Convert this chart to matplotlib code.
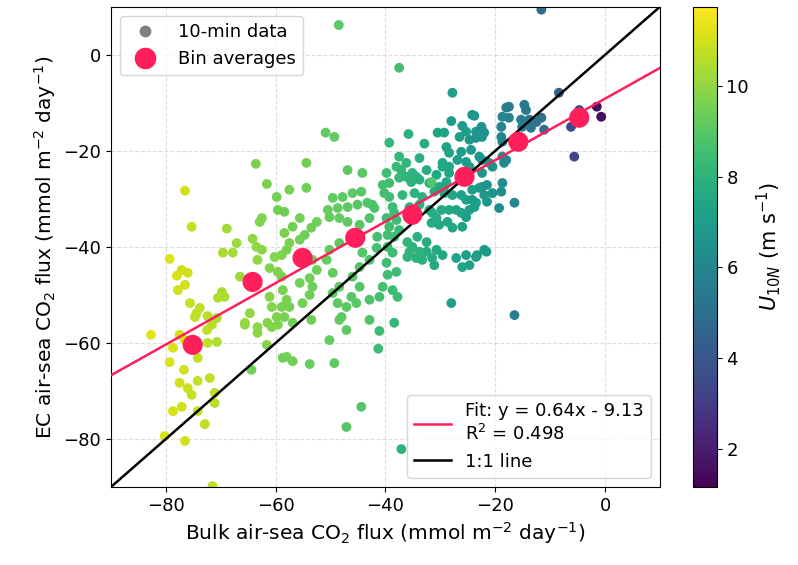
import numpy as np
import matplotlib.pyplot as plt
from matplotlib.lines import Line2D

# 10-min data: bulk flux (x), EC flux (y), U10N (colour)
bulk_flux = [
    -63.6, -61.6, -59.8, -59.6, -58.4, -62.5, -62.9, -76.5, -75.3, -68.9, -64.2, -63.5, -62.5, -67.1, -67.8,
    -69.6, -63.3, -60.2, -58.9, -61.1, -59.6, -79.3, -77.1, -76.0, -78.0, -76.5, -77.8, -66.5, -69.8, -69.3,
    -70.5, -75.6, -73.8, -74.4, -72.4, -70.7, -74.7, -64.7, -65.6, -63.3, -61.1, -60.7, -59.8, -58.9, -61.5,
    -59.6, -58.7,
    -82.7, -78.7, -79.3, -77.5, -76.5, -74.2, -72.4, -72.5, -70.7, -71.6, -76.7, -77.5, -76.0, -75.3, -74.2,
    -72.0, -71.1, -71.1, -77.1, -78.7, -74.2, -72.9, -80.2, -76.5, -71.5, -64.4, -65.6, -63.3, -61.6, -60.7,
    -58.7,
    -53.5, -48.4, -47.1, -50.2, -58.0, -56.9, -53.8, -49.3, -41.1, -41.3, -38.4, -44.4, -47.1, -37.1,
    -48.5, -37.5, -27.8, -23.8, -28.0, -26.0, -30.5, -29.3, -35.8, -50.9, -49.3, -39.3, -32.9, -28.9, -28.4,
    -26.5, -25.3, -54.4, -46.9, -37.5, -36.2, -33.8, -29.6,
    -11.6, -8.4, -4.7, -1.5, -0.7, -6.2, -5.6, -18.0, -17.5, -14.7, -14.4, -13.8, -12.5, -11.6, -11.1,
    -15.3, -15.1, -13.5, -18.9, -18.7, -17.5, -24.2, -22.5, -22.0, -22.4, -23.5, -24.7, -18.9, -18.7, -22.9,
    -22.4, -18.7, -18.0, -21.1, -20.5,
    -18.4, -22.4, -21.5, -20.5, -18.7, -18.9, -24.2, -23.8, -19.3, -16.5, -22.0, -23.3, -24.7, -16.5,
    -44.2, -57.5, -54.4, -49.6, -47.8, -46.0, -44.4, -48.7, -46.9, -45.1, -43.3, -50.5, -50.2, -48.4, -55.6,
    -56.9, -53.5, -54.7, -52.5, -46.9, -44.7, -42.9, -42.0, -39.8, -39.3, -38.0, -37.5, -39.3, -38.7, -39.8,
    -38.0, -39.3, -37.5, -38.4, -35.1, -33.8, -32.5, -32.0, -30.7, -29.6, -28.4, -34.7, -33.3, -31.1, -29.3,
    -32.0, -30.7, -30.2, -28.4, -27.1, -27.8, -26.0, -26.2, -24.2, -23.5, -25.3, -34.2, -32.5, -35.1, -34.4,
    -36.0, -32.5, -33.3, -30.7, -29.6, -31.1, -26.0, -23.5, -28.0, -38.7, -39.8, -38.0, -39.6, -40.5, -38.7,
    -37.8, -41.1, -44.2, -42.9, -44.7, -46.0, -44.7, -46.2, -45.3, -47.1, -48.4, -50.2, -50.7, -49.6, -48.4,
    -49.6, -48.7, -48.0, -42.9, -42.9, -53.3, -52.5, -53.8, -55.6, -53.3, -53.8, -55.1, -57.5, -58.4, -56.9,
    -58.9, -58.0, -57.5, -58.4, -55.6, -58.0,
    -23.5, -26.2, -24.4, -37.1, -28.4, -26.9, -25.3, -24.7, -22.4, -40.5, -40.2, -36.2, -35.3, -34.4, -31.6,
    -30.2, -28.9, -29.3, -27.8, -26.2, -24.7, -22.9, -22.0, -21.5, -42.4, -38.4, -36.9, -35.6, -33.8, -31.5,
    -29.8, -28.7, -31.6, -25.3, -41.5, -39.6, -36.0, -41.6, -39.6, -35.6, -33.8, -31.5, -27.1, -25.3, -21.6,
]
ec_flux = [
    -22.7, -26.9, -29.6, -32.3, -32.7, -34.0, -34.8, -28.3, -35.8, -36.2, -38.3, -40.0, -40.6, -39.2, -41.2,
    -41.2, -42.7, -42.1, -41.7, -44.4, -45.2, -42.5, -44.8, -45.4, -46.0, -47.9, -49.0, -46.2, -49.4, -50.4,
    -50.6, -51.7, -52.7, -53.8, -54.4, -54.8, -54.6, -53.8, -55.8, -56.7, -50.4, -52.5, -54.6, -52.5, -55.8,
    -56.2, -49.0,
    -58.3, -61.0, -64.0, -58.3, -59.4, -63.1, -60.0, -57.3, -59.8, -56.2, -65.6, -68.3, -69.4, -70.8, -67.9,
    -67.3, -70.4, -72.5, -73.3, -74.2, -74.2, -76.9, -79.4, -80.4, -89.8, -65.6, -56.2, -57.9, -60.4, -56.7,
    -63.1,
    -55.2, -55.2, -57.3, -59.4, -62.9, -63.8, -64.4, -64.2, -57.5, -61.2, -55.8, -73.3, -77.5, -82.1,
    6.2, -2.7, -7.9, -12.7, -13.8, -14.8, -16.2, -16.2, -16.5, -16.2, -17.1, -18.3, -18.5, -19.2, -20.4,
    -17.1, -16.0, -22.5, -24.0, -21.2, -22.5, -21.5, -22.5,
    9.4, -7.9, -11.5, -10.8, -12.9, -15.0, -21.2, -11.0, -10.8, -10.4, -11.5, -13.5, -14.0, -13.1, -15.6,
    -13.5, -15.0, -15.2, -15.0, -12.9, -13.1, -12.5, -15.0, -16.2, -17.1, -16.0, -17.7, -17.1, -18.1, -21.2,
    -21.9, -21.2, -21.9, -22.5, -23.3,
    -22.5, -27.5, -27.1, -28.8, -26.7, -28.5, -30.2, -31.7, -31.9, -30.8, -40.6, -41.7, -43.8, -54.2,
    -24.6, -28.1, -27.7, -29.8, -29.6, -28.8, -28.5, -31.9, -31.7, -31.2, -30.8, -32.3, -33.8, -34.0, -34.0,
    -35.8, -36.0, -37.5, -34.8, -34.8, -35.4, -34.0, -31.9, -24.6, -26.7, -23.3, -25.6, -29.6, -31.7, -34.0,
    -34.4, -35.8, -36.5, -37.9, -24.6, -26.0, -24.0, -26.7, -25.0, -23.3, -24.6, -28.8, -29.6, -28.5, -27.5,
    -32.3, -34.0, -35.4, -32.3, -32.3, -36.0, -35.8, -32.9, -28.1, -30.8, -30.2, -37.9, -39.0, -40.0, -42.3,
    -42.1, -41.0, -42.7, -40.6, -41.7, -43.8, -44.2, -42.1, -51.7, -41.2, -43.3, -45.2, -45.8, -48.3, -49.0,
    -50.4, -50.4, -41.2, -42.7, -44.2, -46.2, -48.3, -50.4, -51.7, -52.5, -39.2, -40.6, -42.7, -45.4, -48.3,
    -49.6, -51.7, -54.6, -51.0, -55.2, -42.7, -44.8, -46.5, -47.5, -48.3, -50.0, -51.7, -52.5, -54.6, -55.8,
    -46.2, -51.0, -39.2, -37.1, -38.5, -40.6,
    -17.3, -20.2, -19.8, -24.0, -23.3, -21.9, -22.3, -23.3, -24.6, -27.1, -28.8, -25.4, -26.5, -25.4, -26.5,
    -27.5, -26.5, -28.8, -29.2, -29.2, -32.3, -27.7, -29.2, -30.6, -31.2, -32.9, -29.2, -31.7, -31.2, -32.9,
    -32.3, -34.8, -35.0, -33.8, -37.9, -37.5, -39.0, -40.2, -40.0, -41.0, -41.0, -42.3, -42.3, -41.7, -41.0,
]
u10n = [
    9.6, 9.6, 9.5, 9.5, 9.4, 9.7, 9.7, 11.0, 10.8, 10.3, 10.0, 10.0, 9.9, 10.2, 10.3,
    10.4, 10.0, 9.8, 9.7, 9.8, 9.7, 11.2, 11.0, 11.0, 11.1, 11.0, 11.0, 10.2, 10.4, 10.4,
    10.5, 10.8, 10.7, 10.7, 10.6, 10.5, 10.7, 10.0, 10.1, 9.9, 9.8, 9.8, 9.7, 9.6, 9.8,
    9.7, 9.6,
    11.3, 11.1, 11.1, 11.0, 11.0, 10.8, 10.7, 10.7, 10.5, 10.6, 11.0, 11.0, 10.9, 10.9, 10.8,
    10.7, 10.6, 10.6, 11.0, 11.1, 10.8, 10.7, 11.1, 11.0, 10.7, 9.5, 10.0, 9.9, 9.8, 9.8,
    9.4,
    9.4, 9.2, 9.1, 9.2, 9.5, 9.4, 9.3, 9.1, 8.4, 8.4, 8.2, 8.9, 8.9, 8.0,
    9.0, 8.6, 7.0, 6.6, 7.0, 6.9, 7.4, 7.3, 7.9, 9.2, 9.2, 8.2, 7.7, 7.3, 7.3,
    7.1, 7.0, 9.5, 9.1, 8.2, 8.1, 7.9, 7.5,
    5.0, 4.3, 3.4, 1.6, 1.5, 3.6, 3.3, 5.7, 5.6, 5.5, 5.4, 5.3, 5.1, 5.0, 4.9,
    5.6, 5.6, 5.3, 6.0, 6.0, 5.8, 6.8, 6.5, 6.5, 6.6, 6.6, 6.8, 6.1, 6.1, 6.8,
    6.7, 6.2, 6.2, 6.6, 6.5,
    6.2, 6.7, 6.6, 6.5, 6.3, 6.3, 6.9, 6.9, 6.4, 6.0, 7.0, 7.1, 7.2, 5.7,
    9.0, 9.6, 9.5, 9.2, 9.1, 9.1, 9.0, 9.2, 9.1, 9.0, 8.9, 9.3, 9.3, 9.2, 9.5,
    9.5, 9.4, 9.4, 9.4, 9.1, 9.0, 8.9, 8.8, 8.5, 8.5, 8.4, 8.3, 8.5, 8.4, 8.5,
    8.4, 8.5, 8.3, 8.4, 8.0, 7.9, 7.8, 7.8, 7.6, 7.5, 7.4, 8.0, 7.9, 7.7, 7.5,
    7.8, 7.7, 7.6, 7.5, 7.4, 7.4, 7.3, 7.3, 7.1, 7.0, 7.2, 7.9, 7.8, 8.0, 8.0,
    8.1, 7.8, 7.9, 7.6, 7.5, 7.6, 7.3, 7.1, 7.2, 8.4, 8.5, 8.4, 8.5, 8.6, 8.4,
    8.4, 8.6, 8.9, 8.8, 8.9, 9.0, 8.9, 9.0, 9.0, 9.0, 9.1, 9.2, 9.2, 9.2, 9.1,
    9.1, 9.1, 9.1, 8.8, 8.8, 9.4, 9.4, 9.4, 9.5, 9.4, 9.4, 9.5, 9.5, 9.6, 9.5,
    9.6, 9.6, 9.6, 9.6, 9.5, 9.6,
    6.6, 7.0, 6.8, 8.2, 7.4, 7.2, 7.0, 7.0, 6.7, 8.6, 8.6, 8.1, 8.0, 8.0, 8.9,
    7.6, 7.5, 7.5, 7.4, 7.2, 7.1, 6.9, 6.8, 6.7, 8.8, 8.4, 8.2, 8.1, 7.9, 7.7,
    7.6, 7.5, 7.7, 7.2, 8.6, 8.5, 8.1, 8.6, 8.5, 8.1, 8.0, 7.7, 7.3, 7.2, 6.9,
]

# bin averages
bin_x = [-75.1, -64.2, -55.1, -45.5, -35.1, -25.6, -15.8, -4.7]
bin_y = [-60.4, -47.3, -42.3, -38.1, -33.3, -25.4, -18.1, -13.1]

# fit
slope = 0.64
intercept = -9.13
r2 = 0.498

pink = '#ff1f5a'

fig = plt.figure(figsize=(7.98, 5.65), dpi=100)
ax = fig.add_axes([0.139, 0.138, 0.688, 0.850])
cax = fig.add_axes([0.868, 0.138, 0.030, 0.850])

sc = ax.scatter(bulk_flux, ec_flux, c=u10n, cmap='viridis', vmin=1.15, vmax=11.75,
                s=50, edgecolors='none', zorder=2)

xl = np.array([-90, 10])
ax.plot(xl, slope * xl + intercept, color=pink, linewidth=1.8, zorder=3,
        label=f'Fit: y = {slope:.2f}x - {abs(intercept):.2f}\nR$^2$ = {r2:.3f}')
ax.plot(xl, xl, color='black', linewidth=1.8, zorder=3, label='1:1 line')
ax.scatter(bin_x, bin_y, s=210, color=pink, edgecolors='none', zorder=4)

ax.set_xlim(-90, 10)
ax.set_ylim(-90, 10)
ax.set_xticks([-80, -60, -40, -20, 0])
ax.set_yticks([-80, -60, -40, -20, 0])
ax.tick_params(labelsize=13)
ax.grid(True, linestyle='--', alpha=0.4)
ax.set_xlabel('Bulk air-sea CO$_2$ flux (mmol m$^{-2}$ day$^{-1}$)', fontsize=14.5)
ax.set_ylabel('EC air-sea CO$_2$ flux (mmol m$^{-2}$ day$^{-1}$)', fontsize=14.5)

# legend for markers (upper left)
h1 = [Line2D([], [], marker='o', linestyle='none', color='gray', markersize=7.5),
      Line2D([], [], marker='o', linestyle='none', color=pink, markersize=14.5)]
leg1 = ax.legend(h1, ['10-min data', 'Bin averages'], loc='upper left', fontsize=13)
ax.add_artist(leg1)
ax.legend(loc='lower right', fontsize=13)

cb = fig.colorbar(sc, cax=cax)
cb.set_ticks([2, 4, 6, 8, 10])
cb.ax.tick_params(labelsize=13)
cb.set_label('$U_{10N}$ (m s$^{-1}$)', fontsize=15)

fig.savefig('out.png', dpi=100)
